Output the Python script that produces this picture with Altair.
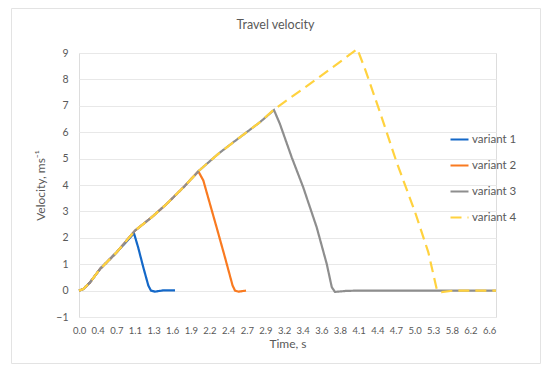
import altair as alt
import pandas as pd

x_labels = ["0.0", "0.4", "0.7", "1.1", "1.3", "1.6", "1.9", "2.2", "2.4", "2.7", "2.9",
            "3.2", "3.4", "3.6", "3.8", "4.1", "4.4", "4.7", "5.0", "5.3", "5.8", "6.2", "6.6"]

series_names = ["variant 1", "variant 2", "variant 3", "variant 4"]
series_colors = ["#1468C8", "#F97A20", "#8E8E8E", "#FFD23F"]

# x values are positions on the (category) time axis, in label steps
v1_x = [0.0, 0.23, 0.59, 1.13, 2.02, 2.95, 3.18, 3.45, 3.72, 3.86, 4.08, 4.52, 5.15]
v1_y = [0.0, 0.06, 0.31, 0.82, 1.45, 2.17, 1.62, 0.88, 0.19, 0.0, -0.04, 0.01, 0.01]

v2_x = [0.0, 0.23, 0.59, 1.13, 2.02, 3.0, 3.9, 4.7, 5.6, 6.4, 6.67, 6.85, 7.38, 7.83, 8.24, 8.37, 8.55, 8.96]
v2_y = [0.0, 0.06, 0.31, 0.82, 1.45, 2.27, 2.78, 3.28, 3.91, 4.52, 4.17, 3.72, 2.4, 1.26, 0.19, 0.0, -0.04, 0.0]

v3_x = [0.0, 0.23, 0.59, 1.13, 2.02, 3.0, 3.9, 4.7, 5.6, 6.45, 7.47, 8.28, 9.71, 10.46,
        10.78, 11.41, 12.03, 12.75, 13.29, 13.56, 13.73, 14.36, 15.0, 22.37]
v3_y = [0.0, 0.06, 0.31, 0.82, 1.45, 2.27, 2.78, 3.28, 3.91, 4.55, 5.18, 5.62, 6.38, 6.84,
        6.31, 5.05, 3.91, 2.4, 1.01, 0.13, -0.05, -0.01, 0.0, 0.0]

v4_x = [0.0, 0.23, 0.59, 1.13, 2.02, 3.0, 3.9, 4.7, 5.6, 6.45, 7.47, 8.28, 9.71, 10.46,
        12.84, 14.93, 15.34, 16.15, 17.04, 18.03, 18.74, 19.19, 19.45, 20.08, 22.37]
v4_y = [0.0, 0.06, 0.31, 0.82, 1.45, 2.27, 2.78, 3.28, 3.91, 4.55, 5.18, 5.62, 6.38, 6.86,
        8.06, 9.15, 8.4, 6.75, 4.86, 2.97, 1.45, 0.06, -0.06, 0.0, 0.0]

rows = []
for name, xs, ys in zip(series_names, [v1_x, v2_x, v3_x, v4_x], [v1_y, v2_y, v3_y, v4_y]):
    for i, (xv, yv) in enumerate(zip(xs, ys)):
        rows.append({"series": name, "t": xv, "v": yv, "i": i})
df = pd.DataFrame(rows)

label_arr = "[" + ",".join("'" + s + "'" for s in x_labels) + "]"
FONT = "Lato"
TXT = "#595959"


def legend():
    return alt.Legend(title=None, orient="none", legendX=370, legendY=76,
                      symbolType="stroke", symbolSize=324, symbolStrokeWidth=2.5,
                      labelFont=FONT, labelFontSize=11.5, labelColor=TXT,
                      rowPadding=10, labelOffset=2, padding=0)


lines = alt.Chart(df).mark_line(clip=False).encode(
    x=alt.X("t:Q",
            scale=alt.Scale(domain=[0, 22.37], nice=False, zero=False),
            axis=alt.Axis(values=list(range(len(x_labels))), labelExpr=label_arr + "[datum.value]",
                          grid=False, domain=False, ticks=False, labelPadding=8,
                          labelOverlap=False, labelFlush=False,
                          labelFontSize=9.5, labelColor=TXT, labelFont=FONT,
                          title="Time, s", titleFont=FONT, titleFontSize=12,
                          titleColor=TXT, titleFontWeight="normal", titlePadding=4)),
    y=alt.Y("v:Q",
            scale=alt.Scale(domain=[-1, 9], nice=False, zero=False),
            axis=alt.Axis(values=list(range(-1, 10)), grid=True, gridColor="#E8E8E8",
                          domain=False, ticks=False, labelPadding=11,
                          labelFontSize=10.5, labelColor=TXT, labelFont=FONT,
                          title="Velocity, ms\u207b\u00b9", titleFont=FONT, titleFontSize=12,
                          titleColor=TXT, titleFontWeight="normal", titlePadding=8)),
    color=alt.Color("series:N",
                    scale=alt.Scale(domain=series_names, range=series_colors),
                    legend=legend()),
    strokeDash=alt.StrokeDash("series:N",
                              scale=alt.Scale(domain=series_names,
                                              range=[[1, 0], [1, 0], [1, 0], [11, 6]]),
                              legend=legend()),
    strokeWidth=alt.StrokeWidth("series:N",
                                scale=alt.Scale(domain=series_names, range=[2.2, 2.2, 1.6, 2.2]),
                                legend=legend()),
    order=alt.Order("i:Q"),
)

frame_df = pd.DataFrame({"k": [0]})
frame = alt.Chart(frame_df).mark_rect(fill=None, stroke="#E3E3E3", strokeWidth=1, clip=False).encode(
    x=alt.value(-67.5), x2=alt.value(461.5), y=alt.value(-44.5), y2=alt.value(310.5)
)

chart = alt.layer(frame, lines).properties(
    width=417, height=264,
    title=alt.TitleParams("Travel velocity", font=FONT, fontSize=12.5, color=TXT,
                          fontWeight="normal", anchor="middle", frame="group",
                          dx=-12, offset=-23),
    autosize=alt.AutoSizeParams(type="none"),
    padding={"left": 71, "top": 45, "right": 46, "bottom": 50},
).configure_view(stroke=None).configure(background="white")

chart.save("out.html", embed_options={"renderer": "svg", "actions": False})
